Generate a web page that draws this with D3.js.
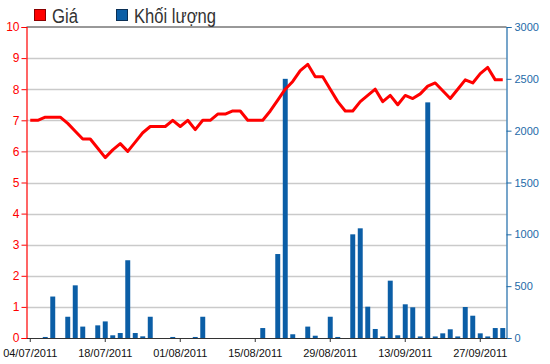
<!DOCTYPE html>
<html>
<head>
<meta charset="utf-8">
<script src="https://cdn.jsdelivr.net/npm/d3@7"></script>
<style>
  html, body { margin: 0; padding: 0; background: #fff; }
  #chart { width: 550px; height: 364px; }
  text { font-family: "Liberation Sans", Arial, sans-serif; }
</style>
</head>
<body>
<div id="chart"></div>
<script>
// -- Data (trading days, 04/07/2011 - 30/09/2011) -------------------
var DATES = [
  "04/07/2011", "05/07/2011", "06/07/2011", "07/07/2011", "08/07/2011",
  "11/07/2011", "12/07/2011", "13/07/2011", "14/07/2011", "15/07/2011",
  "18/07/2011", "19/07/2011", "20/07/2011", "21/07/2011", "22/07/2011",
  "25/07/2011", "26/07/2011", "27/07/2011", "28/07/2011", "29/07/2011",
  "01/08/2011", "02/08/2011", "03/08/2011", "04/08/2011", "05/08/2011",
  "08/08/2011", "09/08/2011", "10/08/2011", "11/08/2011", "12/08/2011",
  "15/08/2011", "16/08/2011", "17/08/2011", "18/08/2011", "19/08/2011",
  "22/08/2011", "23/08/2011", "24/08/2011", "25/08/2011", "26/08/2011",
  "29/08/2011", "30/08/2011", "31/08/2011", "01/09/2011",
  "05/09/2011", "06/09/2011", "07/09/2011", "08/09/2011", "09/09/2011",
  "12/09/2011", "13/09/2011", "14/09/2011", "15/09/2011", "16/09/2011",
  "19/09/2011", "20/09/2011", "21/09/2011", "22/09/2011", "23/09/2011",
  "26/09/2011", "27/09/2011", "28/09/2011", "29/09/2011", "30/09/2011"
];

// Giá (left axis)
var PRICE = [
  7.0, 7.0, 7.1, 7.1, 7.1,
  6.9, 6.65, 6.4, 6.4, 6.1,
  5.8, 6.05, 6.25, 6.0, 6.3,
  6.6, 6.8, 6.8, 6.8, 7.0,
  6.8, 7.0, 6.7, 7.0, 7.0,
  7.2, 7.2, 7.3, 7.3, 7.0,
  7.0, 7.0, 7.3, 7.65, 8.0,
  8.25, 8.6, 8.8, 8.4, 8.4,
  8.0, 7.6, 7.3, 7.3,
  7.6, 7.8, 8.0, 7.6, 7.8,
  7.5, 7.8, 7.7, 7.85, 8.1,
  8.2, 7.95, 7.7, 8.0, 8.3,
  8.2, 8.5, 8.7, 8.3, 8.3
];

// Khối lượng (right axis)
var VOLUME = [
  0, 0, 10, 400, 0,
  205, 508, 110, 0, 122,
  160, 26, 48, 750, 48,
  16, 205, 0, 0, 10,
  0, 0, 10, 205, 0,
  0, 0, 0, 0, 0,
  0, 96, 0, 810, 2500,
  36, 0, 110, 22, 0,
  205, 10, 0, 1000,
  1058, 302, 87, 15, 553,
  26, 325, 296, 15, 2273,
  15, 45, 84, 15, 299,
  215, 45, 15, 96, 96
];

var X_TICKS = ["04/07/2011", "18/07/2011", "01/08/2011", "15/08/2011", "29/08/2011", "13/09/2011", "27/09/2011"];
var PRICE_TICKS = [0, 1, 2, 3, 4, 5, 6, 7, 8, 9, 10];
var VOLUME_TICKS = [0, 500, 1000, 1500, 2000, 2500, 3000];

(function () {
  var W = 550, H = 364;
  var left = 26.5, right = 506.5, top = 27, bottom = 338;

  var RED = "#ff0000";
  var BLUE = "#1d6aa8";
  var BAR = "#0b5ea6";

  var svg = d3.select("#chart").append("svg")
    .attr("width", W).attr("height", H);

  var x = d3.scaleBand().domain(DATES).range([left, right]).paddingInner(0).paddingOuter(0);
  var yP = d3.scaleLinear().domain([0, 10]).range([bottom, top]);
  var yV = d3.scaleLinear().domain([0, 3000]).range([bottom, top]);

  // grid lines
  svg.append("g").selectAll("line")
    .data(PRICE_TICKS.slice(1, -1))
    .join("line")
      .attr("x1", left).attr("x2", right)
      .attr("y1", function (d) { return Math.round(yP(d)) + 0.5; })
      .attr("y2", function (d) { return Math.round(yP(d)) + 0.5; })
      .attr("stroke", "#cacaca")
      .attr("stroke-width", 1.3);

  // top border
  svg.append("line")
    .attr("x1", left).attr("x2", right)
    .attr("y1", top).attr("y2", top)
    .attr("stroke", "#333").attr("stroke-width", 1);

  // volume bars
  var bw = x.bandwidth() * 0.66;
  svg.append("g").selectAll("rect")
    .data(DATES.map(function (d, i) { return { date: d, v: VOLUME[i] }; }).filter(function (d) { return d.v > 0; }))
    .join("rect")
      .attr("x", function (d) { return x(d.date) + (x.bandwidth() - bw) / 2; })
      .attr("width", bw)
      .attr("y", function (d) { return yV(d.v); })
      .attr("height", function (d) { return bottom - yV(d.v); })
      .attr("fill", BAR);

  // price line
  var line = d3.line()
    .x(function (d, i) { return x(DATES[i]) + x.bandwidth() / 2; })
    .y(function (d) { return yP(d); });

  svg.append("path")
    .datum(PRICE)
    .attr("d", line)
    .attr("fill", "none")
    .attr("stroke", RED)
    .attr("stroke-width", 3)
    .attr("stroke-linejoin", "round");

  // left axis (Giá)
  var axL = svg.append("g")
    .attr("transform", "translate(" + left + ",0)")
    .call(d3.axisLeft(yP).tickValues(PRICE_TICKS).tickSize(5).tickPadding(2).tickFormat(d3.format("d")));
  axL.select(".domain").attr("stroke", RED).attr("stroke-width", 1.2);
  axL.selectAll(".tick line").attr("stroke", RED);
  axL.selectAll(".tick text").attr("fill", RED).attr("font-size", "12px")
    .attr("font-family", "'Liberation Sans', Arial, sans-serif");

  // right axis (Khối lượng)
  var axR = svg.append("g")
    .attr("transform", "translate(" + right + ",0)")
    .call(d3.axisRight(yV).tickValues(VOLUME_TICKS).tickSize(5).tickPadding(3).tickFormat(d3.format("d")));
  axR.select(".domain").attr("stroke", BLUE).attr("stroke-width", 1.2);
  axR.selectAll(".tick line").attr("stroke", BLUE);
  axR.selectAll(".tick text").attr("fill", BLUE).attr("font-size", "11px")
    .attr("font-family", "'Liberation Sans', Arial, sans-serif");

  // bottom axis
  var axB = svg.append("g")
    .attr("transform", "translate(0," + bottom + ")")
    .call(d3.axisBottom(x).tickValues(X_TICKS).tickSizeInner(4).tickSizeOuter(0).tickPadding(7));
  axB.select(".domain").attr("stroke", "#333");
  axB.selectAll(".tick line").attr("stroke", "#333");
  axB.selectAll(".tick text").attr("fill", "#111").attr("font-size", "11px")
    .attr("font-family", "'Liberation Sans', Arial, sans-serif");

  // legend
  var legend = [
    { label: "Giá", color: RED, border: "#8a0000", x: 34.5, len: 26 },
    { label: "Khối lượng", color: BAR, border: "#0a2f55", x: 116.5, len: 82 }
  ];
  var lg = svg.append("g").selectAll("g").data(legend).join("g");
  lg.append("rect")
    .attr("x", function (d) { return d.x; }).attr("y", 9.5)
    .attr("width", 11).attr("height", 11)
    .attr("fill", function (d) { return d.color; })
    .attr("stroke", function (d) { return d.border; })
    .attr("stroke-width", 1);
  lg.append("text")
    .attr("x", function (d) { return d.x + 17.5; })
    .attr("y", 23)
    .attr("font-size", "20px")
    .attr("fill", "#333")
    .attr("textLength", function (d) { return d.len; })
    .attr("lengthAdjust", "spacingAndGlyphs")
    .text(function (d) { return d.label; });
})();
</script>
</body>
</html>
